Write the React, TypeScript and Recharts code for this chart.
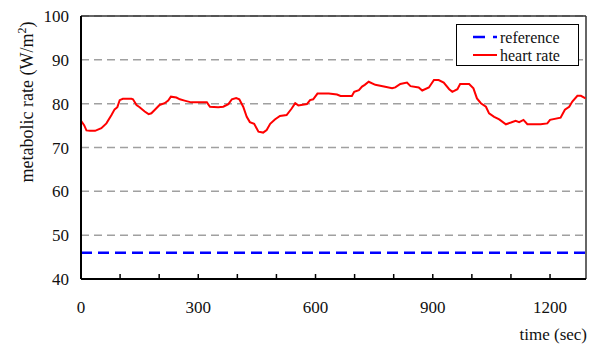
import React from "react";
import { LineChart, Line, XAxis, YAxis, CartesianGrid, ReferenceLine } from "recharts";

const timeSec = [0, 8, 14, 23, 36, 52, 65, 78, 86, 93, 99, 107, 129, 133, 142, 150, 163, 173, 180, 189, 201, 214, 223, 230, 244, 253, 265, 282, 299, 322, 330, 351, 364, 377, 386, 397, 405, 415, 424, 432, 443, 454, 466, 475, 484, 496, 509, 526, 539, 548, 556, 578, 586, 594, 605, 634, 655, 664, 693, 699, 711, 719, 726, 736, 753, 775, 796, 804, 817, 834, 843, 864, 873, 890, 903, 915, 928, 942, 950, 963, 970, 993, 1004, 1013, 1023, 1036, 1044, 1057, 1070, 1087, 1100, 1112, 1121, 1132, 1142, 1176, 1193, 1200, 1227, 1238, 1249, 1257, 1270, 1279, 1291];
const heartRate = [76.1, 75.1, 73.9, 73.8, 73.8, 74.4, 75.5, 77.4, 78.7, 79.2, 80.8, 81.1, 81.1, 81.0, 79.7, 79.2, 78.2, 77.6, 77.8, 78.6, 79.7, 80.1, 80.7, 81.6, 81.4, 81.0, 80.7, 80.3, 80.3, 80.3, 79.3, 79.2, 79.3, 79.9, 81.0, 81.3, 81.0, 79.3, 77.0, 75.8, 75.4, 73.6, 73.4, 74.0, 75.4, 76.4, 77.2, 77.4, 78.9, 80.1, 79.6, 79.9, 80.8, 81.0, 82.3, 82.3, 82.1, 81.75, 81.75, 82.7, 83.1, 83.9, 84.3, 85.0, 84.3, 83.9, 83.5, 83.7, 84.5, 84.8, 84.0, 83.7, 83.0, 83.7, 85.4, 85.4, 84.8, 83.3, 82.7, 83.3, 84.5, 84.5, 83.5, 81.2, 80.1, 79.3, 77.8, 77.0, 76.4, 75.3, 75.7, 76.1, 75.8, 76.3, 75.3, 75.3, 75.5, 76.3, 76.8, 78.6, 79.3, 80.5, 81.8, 81.8, 81.2];
const referenceValue = 46;
const xTicks = [0, 100, 200, 300, 400, 500, 600, 700, 800, 900, 1000, 1100, 1200];
const xLabelTicks = [0, 300, 600, 900, 1200];
const yTicks = [40, 50, 60, 70, 80, 90, 100];
const xMax = 1292;
const seriesNames = ["reference", "heart rate"];

const data = timeSec.map((t, i) => ({ t, hr: heartRate[i] }));

const FONT = "Liberation Serif, Tinos, Times New Roman, DejaVu Serif, serif";

const XTick = (props: any) => {
  const { x, y, payload } = props;
  const showLabel = xLabelTicks.includes(payload.value);
  return (
    <g>
      <line x1={x} x2={x} y1={y} y2={y - 5} stroke="#000" strokeWidth={1.5} />
      {showLabel && (
        <text x={x} y={y + 28} textAnchor="middle" dominantBaseline="central" style={{ fontFamily: FONT }} fontSize={17} fill="#111">
          {payload.value}
        </text>
      )}
    </g>
  );
};

export default function App() {
  return (
    <div style={{ position: "absolute", left: 0, top: 0, width: 594, height: 344, background: "#fff" }}>
      <LineChart width={594} height={344} data={data} margin={{ top: 16, right: 8, left: 21, bottom: 25 }}>
        <CartesianGrid vertical={false} horizontal={true} stroke="#a0a0a0" strokeWidth={1.5} strokeDasharray="8 5" />
        <XAxis
          dataKey="t"
          type="number"
          domain={[0, xMax]}
          ticks={xTicks}
          height={40}
          tickSize={0}
          tickMargin={0}
          tickLine={false}
          tick={<XTick />}
          axisLine={{ stroke: "#000", strokeWidth: 2 }}
          interval={0}
          allowDataOverflow
        />
        <YAxis
          type="number"
          domain={[40, 100]}
          ticks={yTicks}
          width={60}
          tickSize={0}
          tickMargin={12}
          tickLine={false}
          axisLine={{ stroke: "#000", strokeWidth: 2 }}
          tick={{ style: { fontFamily: FONT }, fontSize: 17, fill: "#111" }}
          interval={0}
          label={{
            content: () => (
              <text
                x={33}
                y={102}
                transform="rotate(-90, 33, 102)"
                textAnchor="middle"
                style={{ fontFamily: FONT }}
                fontSize={18}
                fill="#111"
              >
                metabolic rate (W/m
                <tspan dy={-7} fontSize={12}>2</tspan>
                <tspan dy={7}>)</tspan>
              </text>
            ),
          }}
        />
        <ReferenceLine y={100} stroke="#333" strokeWidth={1.5} />
        <ReferenceLine x={xMax} stroke="#333" strokeWidth={1.5} />
        <ReferenceLine y={referenceValue} stroke="#0000ff" strokeWidth={2.5} strokeDasharray="11 6" />
        <Line
          type="linear"
          dataKey="hr"
          name={seriesNames[1]}
          stroke="#ff0000"
          strokeWidth={2}
          dot={false}
          isAnimationActive={false}
        />
        <g>
          <rect x={456.5} y={24.5} width={122} height={41} fill="#fff" stroke="#000" strokeWidth={1} />
          <line x1={473} x2={485} y1={37} y2={37} stroke="#0000ff" strokeWidth={2.5} />
          <line x1={493} x2={497} y1={37} y2={37} stroke="#0000ff" strokeWidth={2.5} />
          <text x={500} y={37} dominantBaseline="central" style={{ fontFamily: FONT }} fontSize={16} fill="#111">
            {seriesNames[0]}
          </text>
          <line x1={473} x2={497} y1={55} y2={55} stroke="#ff0000" strokeWidth={2} />
          <text x={500} y={55} dominantBaseline="central" style={{ fontFamily: FONT }} fontSize={16} fill="#111">
            {seriesNames[1]}
          </text>
        </g>
        <text x={587} y={340} textAnchor="end" style={{ fontFamily: FONT }} fontSize={17} fill="#111">
          time (sec)
        </text>
      </LineChart>
    </div>
  );
}
